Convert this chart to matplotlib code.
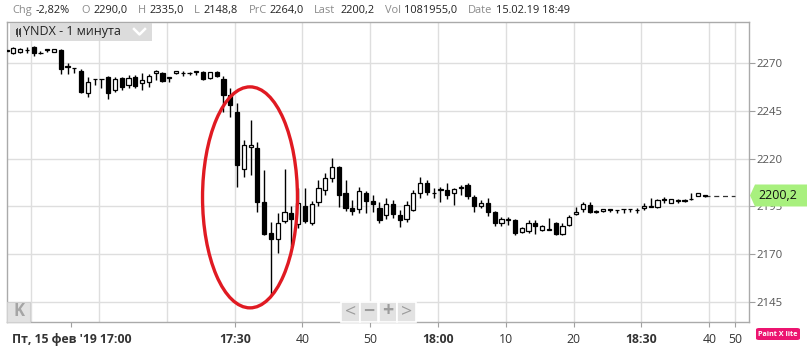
import numpy as np
import matplotlib
matplotlib.use('Agg')
import matplotlib.pyplot as plt
from matplotlib import patches
from matplotlib.lines import Line2D

plt.rcParams['font.family'] = ['Open Sans', 'DejaVu Sans']

# минутные свечи YNDX, 15.02.19 (первая свеча ~16:56)
first_minute = -3.65  # минуты относительно 17:00
opens = [2276.4, 2275.4, 2275.6, 2276.8, 2278.2, 2275.3, 2277.0, 2276.0, 2276.8, 2268.1,
         2267.2, 2266.0, 2254.2, 2261.5, 2261.5, 2262.8, 2256.0, 2262.0, 2258.5, 2262.8,
         2259.4, 2260.2, 2264.6, 2264.6, 2262.3, 2264.6, 2264.6, 2264.6, 2265.5, 2265.5,
         2262.0, 2265.3, 2261.5, 2253.3, 2244.5, 2214.4, 2226.2, 2225.7, 2197.5, 2180.9,
         2177.8, 2187.5, 2191.7, 2185.8, 2195.2, 2186.5, 2197.5, 2203.6, 2209.7, 2215.8,
         2201.9, 2194.0, 2193.5, 2202.2, 2198.0, 2194.0, 2190.5, 2196.3, 2190.5, 2188.3,
         2193.1, 2202.2, 2207.1, 2201.9, 2203.6, 2203.6, 2202.2, 2204.5, 2206.2, 2200.0,
         2195.2, 2197.0, 2192.0, 2186.5, 2187.9, 2187.9, 2181.8, 2182.3, 2186.5, 2182.7,
         2182.7, 2186.5, 2180.6, 2185.4, 2191.0, 2193.5, 2195.7, 2192.2, 2192.4, 2193.5,
         2193.1, 2193.5, 2193.5, 2193.1, 2194.0, 2194.9, 2194.5, 2198.7, 2197.0, 2198.0,
         2198.0, 2198.7, 2200.4, 2201.0]
highs = [2277.0, 2278.3, 2277.8, 2278.5, 2278.8, 2276.4, 2277.2, 2277.4, 2277.5, 2270.2,
         2267.4, 2266.9, 2262.5, 2261.7, 2261.7, 2263.2, 2262.5, 2262.6, 2263.7, 2263.7,
         2264.6, 2264.1, 2266.3, 2265.2, 2262.5, 2266.0, 2265.8, 2265.4, 2265.7, 2265.7,
         2265.4, 2265.6, 2263.0, 2256.8, 2249.2, 2229.7, 2240.2, 2228.8, 2214.0, 2187.0,
         2191.4, 2214.4, 2195.0, 2204.5, 2204.5, 2198.0, 2208.8, 2212.3, 2220.2, 2216.2,
         2208.8, 2198.3, 2205.0, 2203.2, 2201.0, 2197.5, 2199.2, 2198.3, 2193.1, 2198.0,
         2203.6, 2210.6, 2208.8, 2204.5, 2205.3, 2207.1, 2204.5, 2206.0, 2207.1, 2201.0,
         2198.3, 2199.2, 2192.5, 2189.6, 2189.6, 2188.5, 2184.0, 2187.9, 2187.9, 2185.4,
         2188.8, 2187.0, 2186.2, 2190.5, 2194.9, 2197.3, 2197.3, 2193.1, 2193.7, 2193.7,
         2193.3, 2193.7, 2193.7, 2194.3, 2196.8, 2199.2, 2198.7, 2199.9, 2199.0, 2199.0,
         2198.9, 2201.9, 2202.1, 2201.2]
lows = [2275.8, 2274.8, 2275.0, 2275.0, 2273.6, 2274.9, 2276.0, 2275.8, 2264.2, 2264.2,
        2264.6, 2254.3, 2252.0, 2258.5, 2256.8, 2251.0, 2255.0, 2255.9, 2256.8, 2256.8,
        2255.9, 2257.5, 2261.1, 2260.0, 2260.0, 2264.4, 2263.4, 2263.8, 2263.8, 2261.1,
        2261.8, 2262.5, 2244.5, 2241.9, 2205.3, 2210.6, 2211.4, 2192.2, 2180.0, 2148.8,
        2170.8, 2186.2, 2173.9, 2183.5, 2186.5, 2185.3, 2195.2, 2201.0, 2207.9, 2194.9,
        2192.8, 2190.5, 2191.7, 2191.7, 2192.2, 2186.5, 2188.2, 2188.8, 2184.1, 2187.0,
        2192.8, 2199.2, 2201.0, 2199.2, 2197.5, 2198.7, 2195.7, 2201.0, 2198.7, 2192.2,
        2194.0, 2190.0, 2184.8, 2184.8, 2185.5, 2180.0, 2181.3, 2180.9, 2180.6, 2182.0,
        2182.5, 2180.0, 2179.8, 2184.8, 2190.5, 2192.2, 2191.5, 2191.3, 2192.2, 2192.2,
        2191.5, 2191.7, 2192.0, 2191.5, 2193.1, 2194.7, 2194.3, 2196.7, 2196.8, 2197.0,
        2197.2, 2198.5, 2200.2, 2200.0]
closes = [2276.4, 2277.7, 2277.3, 2276.8, 2275.1, 2275.0, 2277.2, 2277.2, 2266.7, 2268.1,
          2267.2, 2255.0, 2260.2, 2261.5, 2261.5, 2254.2, 2261.8, 2257.6, 2262.3, 2258.1,
          2261.1, 2263.4, 2265.8, 2260.6, 2262.3, 2265.8, 2264.6, 2264.6, 2265.5, 2261.6,
          2265.1, 2263.0, 2253.5, 2248.0, 2216.7, 2227.1, 2227.0, 2197.5, 2180.6, 2177.8,
          2186.5, 2192.2, 2188.3, 2196.6, 2187.5, 2196.3, 2204.5, 2209.7, 2215.5, 2201.0,
          2194.0, 2192.8, 2203.2, 2198.0, 2196.3, 2187.9, 2196.3, 2191.0, 2187.9, 2195.7,
          2202.2, 2207.1, 2202.7, 2201.9, 2203.6, 2201.0, 2204.1, 2205.3, 2200.4, 2195.2,
          2197.0, 2192.0, 2186.3, 2188.2, 2187.9, 2180.9, 2183.5, 2186.5, 2184.8, 2184.6,
          2182.7, 2180.6, 2184.8, 2189.6, 2192.2, 2196.3, 2192.2, 2192.2, 2193.5, 2193.0,
          2193.1, 2193.5, 2193.5, 2193.1, 2195.2, 2194.9, 2198.3, 2198.5, 2198.7, 2198.0,
          2198.0, 2198.7, 2201.9, 2200.2]
last_price = 2200.2

y_ticks = [2145, 2170, 2195, 2220, 2245, 2270]
x_tick_pos = [5.93, 30, 40, 50, 60, 70, 80, 90, 100, 103.8]
x_tick_labels = ["Пт, 15 фев '19 17:00", '17:30', '40', '50', '18:00', '10', '20', '18:30', '40', '50']
x_grid = [0, 10, 20, 30, 40, 50, 60, 70, 80, 90, 100, 103.8]

header_labels = ['Chg', 'O', 'H', 'L', 'PrC', 'Last', 'Vol', 'Date']
header_values = ['-2,82%', '2290,0', '2335,0', '2148,8', '2264,0', '2200,2', '1081955,0', '15.02.19 18:49']
header_label_x = [12.7, 81.7, 138.3, 194.3, 249.3, 314.3, 385, 467.7]
header_value_x = [35.7, 93.3, 150, 204, 270, 340.7, 404, 495.7]

W, H = 807, 347
def fx(x):
    return x / W
def fy(y):
    return 1 - y / H

fig = plt.figure(figsize=(W / 100, H / 100), dpi=100)
ax = fig.add_axes([fx(7), fy(322), (749 - 7) / W, (322 - 21.7) / H])

o = np.array(opens)
h = np.array(highs)
l = np.array(lows)
c = np.array(closes)
t = first_minute + np.arange(len(o))

# сетка
for g in x_grid:
    ax.axvline(g, color='#dedede', lw=1, zorder=0)
for yt in y_ticks:
    ax.axhline(yt, color='#dedede', lw=1, zorder=0)

# свечи
up = c >= o
ax.vlines(t, l, h, color='black', lw=1.0, zorder=2)
bottom = np.minimum(o, c)
height = np.maximum(np.abs(c - o), 0.25)
ax.bar(t[up], height[up], bottom=bottom[up], width=0.62, color='white',
       edgecolor='black', lw=0.9, zorder=3)
ax.bar(t[~up], height[~up], bottom=bottom[~up], width=0.62, color='black',
       edgecolor='black', lw=0.9, zorder=3)

# линия последней цены
ax.plot([t[-1], 103.8], [last_price, last_price], color='#333333', lw=0.9,
        ls=(0, (4, 3)), zorder=2)

# красный эллипс
ell = patches.Ellipse((32.26, 2199.7), 14.0, 115.6, fill=False,
                      edgecolor='#e01a22', lw=2.4, zorder=5, clip_on=False)
ax.add_patch(ell)

ax.set_xlim(-3.58, 105.86)
ax.set_ylim(2134.5, 2291.6)

ax.yaxis.tick_right()
ax.set_yticks(y_ticks)
ax.set_yticklabels([str(v) for v in y_ticks])
ax.tick_params(axis='y', length=4, width=0.8, color='#a0a0a0', pad=1.5,
               labelsize=8.2, labelcolor='#555555')
ax.set_xticks(x_tick_pos)
ax.set_xticklabels(x_tick_labels)
ax.tick_params(axis='x', length=3.5, width=0.8, color='#a0a0a0', pad=4.5,
               labelsize=8.8, labelcolor='#333333')
for lab in ax.get_xticklabels():
    if ':' in lab.get_text():
        lab.set_fontweight('bold')
for sp in ax.spines.values():
    sp.set_color('#aaaaaa')
    sp.set_linewidth(1)

# шапка
for lab, val, lx, vx in zip(header_labels, header_values, header_label_x, header_value_x):
    fig.text(fx(lx), fy(10.5), lab, fontsize=7.9, color='#8a8a8a', va='center')
    fig.text(fx(vx), fy(10.5), val, fontsize=7.9, color='#222222', va='center')

# плашка инструмента
fig.add_artist(patches.Rectangle((fx(10), fy(40.7)), fx(141.7), 17.4 / H,
                                 transform=fig.transFigure, facecolor='#d6d6d6',
                                 alpha=0.85, edgecolor='none', zorder=4))
fig.text(fx(23.3), fy(32), 'YNDX - 1 минута', fontsize=9, color='#222222',
         va='center', zorder=5)
for cx, y0, y1 in [(16.5, 29.5, 34.5), (20.0, 29.5, 34.5)]:
    fig.add_artist(Line2D([fx(cx), fx(cx)], [fy(y0 - 1.5), fy(y1 + 1.5)],
                          transform=fig.transFigure, color='#444444', lw=0.7, zorder=5))
    fig.add_artist(patches.Rectangle((fx(cx - 1), fy(y1)), fx(2), 5 / H,
                                     transform=fig.transFigure, facecolor='#444444',
                                     edgecolor='none', zorder=5))
fig.add_artist(Line2D([fx(134), fx(139.5), fx(145)], [fy(29), fy(34.5), fy(29)],
                      transform=fig.transFigure, color='white', lw=1.8, zorder=5))

# кнопки навигации
fig.add_artist(patches.Rectangle((fx(7.3), fy(321.7)), fx(22.7), 20 / H,
                                 transform=fig.transFigure, facecolor='#e2e2e2',
                                 edgecolor='#d0d0d0', lw=0.8, zorder=4))
fig.text(fx(18.6), fy(311.5), 'K', fontsize=12, fontweight='bold', color='#a5a5a5',
         ha='center', va='center', zorder=5)
for i, g in enumerate(['<', '−', '+', '>']):
    x0 = 340.7 + i * 18.9
    fig.add_artist(patches.Rectangle((fx(x0), fy(321.7)), fx(18.9), 20 / H,
                                     transform=fig.transFigure, facecolor='#e2e2e2',
                                     edgecolor='white', lw=1.2, zorder=4))
    fig.text(fx(x0 + 9.45), fy(311.5), g, fontsize=14,
             fontweight='bold' if g in '−+' else 'normal', color='#9c9c9c',
             ha='center', va='center', zorder=5)

# метка последней цены
tag = patches.Polygon([(fx(750), fy(195.5)), (fx(755), fy(184.5)), (fx(807), fy(184.5)),
                       (fx(807), fy(206.5)), (fx(755), fy(206.5))], closed=True,
                      transform=fig.transFigure, facecolor='#a8f07e', edgecolor='none',
                      zorder=6)
fig.add_artist(tag)
fig.text(fx(758), fy(195.5), '2200,2', fontsize=8.9, color='#111111', va='center', zorder=7)

# значок Paint X lite
badge = patches.FancyBboxPatch((fx(756), fy(340)), fx(44), 12 / H,
                               boxstyle='round,pad=0,rounding_size=0.004',
                               transform=fig.transFigure, facecolor='#ec1470',
                               edgecolor='none', zorder=6)
fig.add_artist(badge)
fig.text(fx(778), fy(334), 'Paint X lite', fontsize=5.2, fontweight='bold',
         color='white', ha='center', va='center', zorder=7)

fig.savefig('out.png', dpi=100)
